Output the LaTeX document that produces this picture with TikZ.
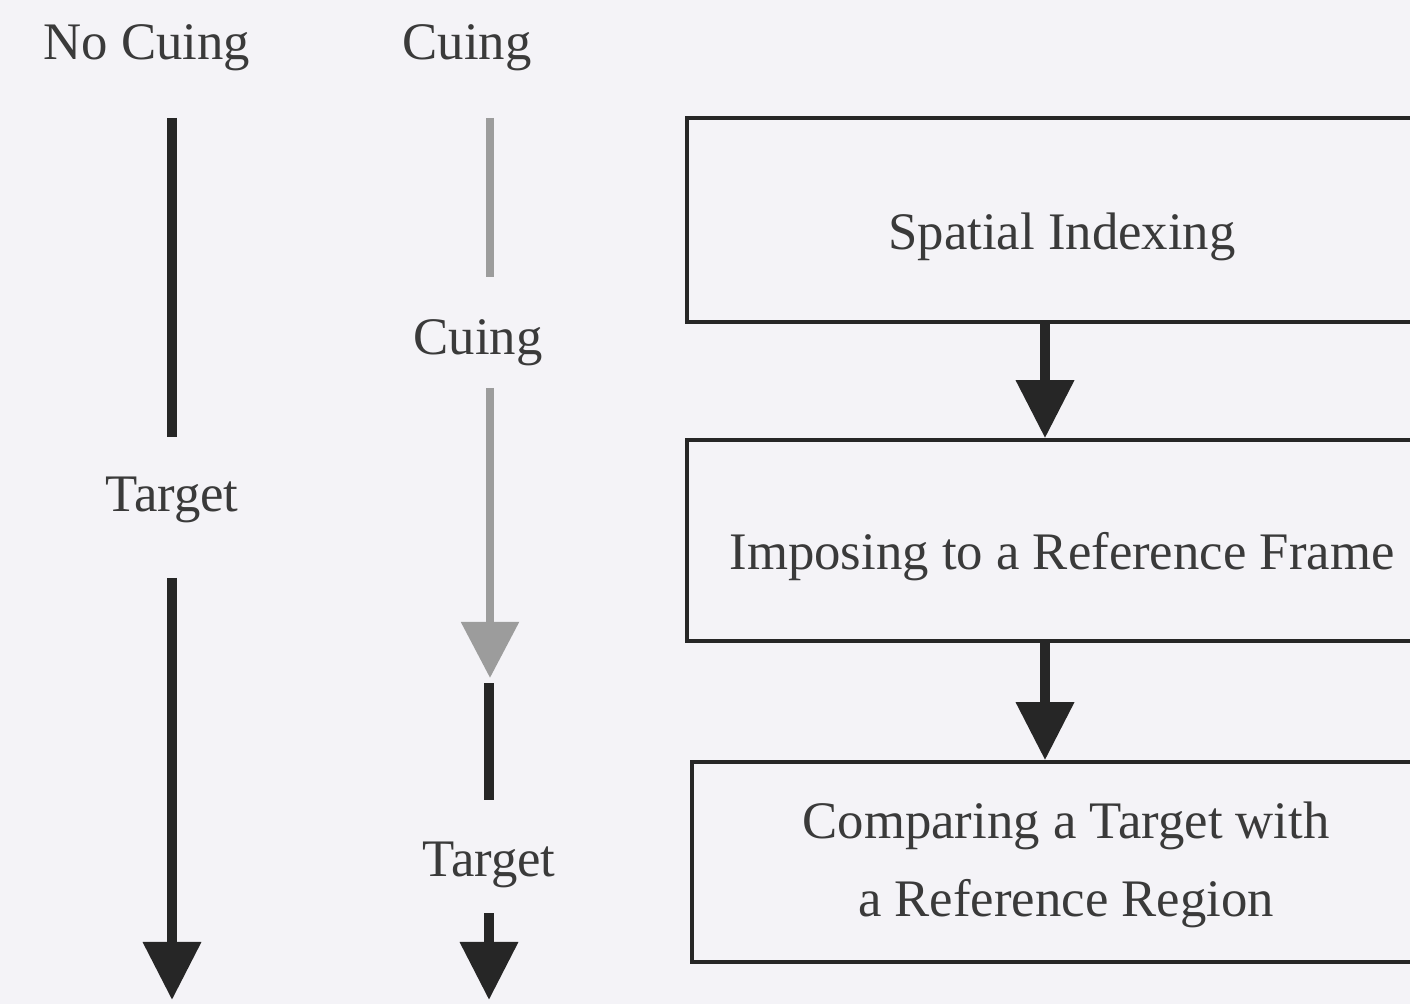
\documentclass[tikz,border=0pt]{standalone}
\usepackage{fontspec}
\setmainfont{Liberation Serif}
\usetikzlibrary{arrows.meta}
\definecolor{paper}{HTML}{F4F3F7}
\definecolor{ink}{HTML}{262626}
\definecolor{txt}{HTML}{3A3A3A}
\definecolor{cue}{HTML}{9C9C9C}
\tikzset{
  lbl/.style={font=\fontsize{15pt}{18pt}\selectfont, text=txt, anchor=base, inner sep=0pt},
  bar/.style={draw=ink, line width=2.9pt},
  cuebar/.style={draw=cue, line width=2.5pt},
  head/.style={-{Triangle[width=0.56cm,length=0.58cm]}},
  stagebox/.style={draw=ink, line width=1pt, rectangle, inner sep=0pt, minimum width=7.6cm},
}
\begin{document}
\begin{tikzpicture}[x=0.01cm,y=-0.01cm]
  \fill[paper] (0,0) rectangle (1410,1004);
  \useasboundingbox (0,0) rectangle (1410,1004);
  \clip (0,0) rectangle (1410,1004);

  % column labels
  \node[lbl] (nocue) at (147,60) {No Cuing};
  \node[lbl] (cue) at (467,60) {Cuing};
  \node[lbl] (tgt1) at (172,512) {Target};
  \node[lbl] (cue2) at (478,355) {Cuing};
  \node[lbl] (tgt2) at (489,876) {Target};

  % no-cuing timeline
  \coordinate (n1) at (172,118);
  \coordinate (n2) at (172,437);
  \coordinate (n3) at (172,578);
  \coordinate (n4) at (172,1000);
  \draw[bar] (n1) -- (n2);
  \draw[bar, head] (n3) -- (n4);

  % cuing timeline
  \coordinate (c1) at (490,118);
  \coordinate (c2) at (490,277);
  \coordinate (c3) at (490,388);
  \coordinate (c4) at (490,678);
  \coordinate (c5) at (489,683);
  \coordinate (c6) at (489,800);
  \coordinate (c7) at (489,913);
  \coordinate (c8) at (489,1000);
  \draw[cuebar] (c1) -- (c2);
  \draw[cuebar, -{Triangle[width=0.56cm,length=0.56cm,fill=cue]}] (c3) -- (c4);
  \draw[bar] (c5) -- (c6);
  \draw[bar, head] (c7) -- (c8);

  % processing stages
  \node[stagebox, minimum height=2.04cm] (b1) at (1067,220) {};
  \node[stagebox, minimum height=2.01cm] (b2) at (1067,540.5) {};
  \node[stagebox, minimum height=2.00cm, minimum width=7.56cm] (b3) at (1070,862) {};

  \node[lbl] (t1) at (1062,250) {Spatial Indexing};
  \node[lbl] (t2) at (1062,570) {Imposing to a Reference Frame};
  \node[lbl] (t3a) at (1066,838) {Comparing a Target with};
  \node[lbl] (t3b) at (1066,916) {a Reference Region};

  \coordinate (ax) at (1045,0);
  \draw[bar, head] (b1.south -| ax) -- (b2.north -| ax);
  \draw[bar, head] (b2.south -| ax) -- (b3.north -| ax);
\end{tikzpicture}
\end{document}
